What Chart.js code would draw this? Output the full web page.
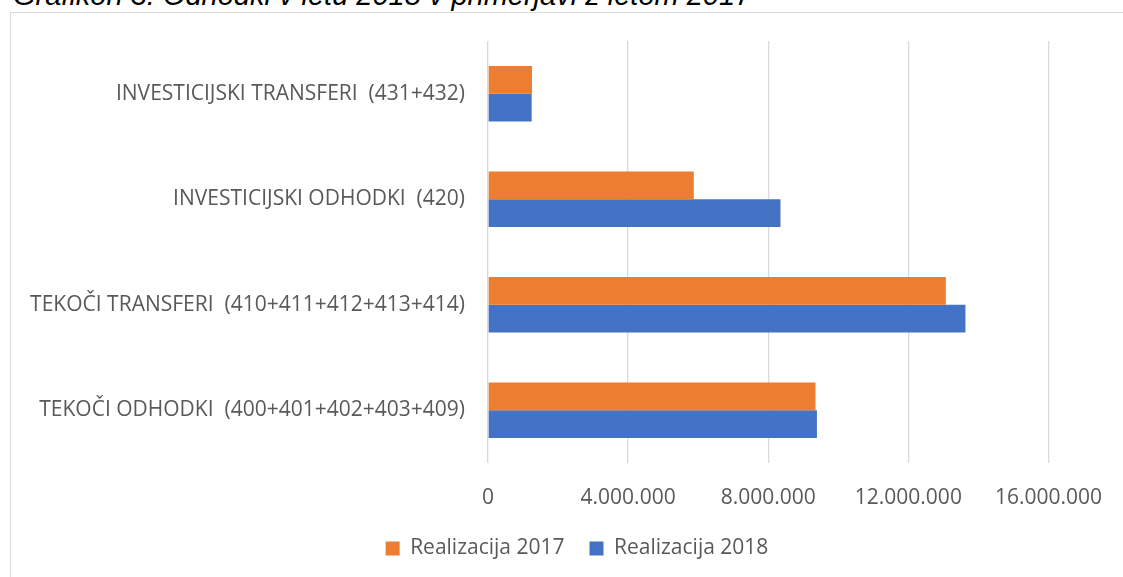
<!DOCTYPE html>
<html>
<head>
    <meta charset="utf-8">
    <title>Odhodki 2018 / 2017</title>
    <script src="https://cdn.jsdelivr.net/npm/chart.js@^4"></script>
    <style>
        body {
            margin: 0;
            width: 1123px;
            height: 577px;
            overflow: hidden;
            background: #fff;
            position: relative;
        }

        #caption {
            position: absolute;
            left: 13px;
            top: -19px;
            font: italic 29px/29px 'Liberation Sans', Arial, sans-serif;
            color: #000;
            white-space: nowrap;
        }

        #frame {
            position: absolute;
            left: 10px;
            top: 12px;
            width: 1140px;
            height: 600px;
            border: 1px solid #d9d9d9;
        }
    </style>
</head>
<body>
<div id="caption">Grafikon 3: Odhodki v letu 2018 v primerjavi z letom 2017</div>
<div id="frame">
    <canvas id="barChart" width="1113" height="560"></canvas>
</div>
<script>
    // Categories top to bottom, as they appear in the chart
    const categories = [
        'INVESTICIJSKI TRANSFERI  (431+432)',
        'INVESTICIJSKI ODHODKI  (420)',
        'TEKOČI TRANSFERI  (410+411+412+413+414)',
        'TEKOČI ODHODKI  (400+401+402+403+409)'
    ];

    // Values (EUR)
    const realizacija2017 = [1256000, 5875000, 13070000, 9350000];
    const realizacija2018 = [1247000, 8350000, 13630000, 9390000];

    // Tick values shown on the value axis
    const xTicks = [0, 4000000, 8000000, 12000000, 16000000];

    const FONT = "'Open Sans', 'Noto Sans', sans-serif";
    const TEXT_GREY = '#595959';

    // 4000000 -> "4.000.000"
    function formatNumber(value) {
        return String(Math.round(value)).replace(/\B(?=(\d{3})+(?!\d))/g, '.');
    }

    const ctx = document.getElementById('barChart').getContext('2d');
    new Chart(ctx, {
        type: 'bar',
        data: {
            labels: categories,
            datasets: [{
                label: 'Realizacija 2017',
                data: realizacija2017,
                backgroundColor: '#ED7D31',
                borderWidth: 0
            }, {
                label: 'Realizacija 2018',
                data: realizacija2018,
                backgroundColor: '#4472C4',
                borderWidth: 0
            }]
        },
        options: {
            indexAxis: 'y',
            responsive: false,
            animation: false,
            categoryPercentage: 0.524,
            barPercentage: 1,
            layout: {
                padding: { left: 19, top: 28, right: 0, bottom: 4 }
            },
            plugins: {
                legend: {
                    position: 'bottom',
                    labels: {
                        boxWidth: 14,
                        boxHeight: 14,
                        padding: 25,
                        color: TEXT_GREY,
                        font: { family: FONT, size: 21 }
                    }
                },
                tooltip: { enabled: false }
            },
            scales: {
                x: {
                    min: 0,
                    max: 18000000,
                    afterBuildTicks: (scale) => {
                        scale.ticks = xTicks.map(v => ({ value: v }));
                    },
                    afterFit: (scale) => {
                        scale.height = 50;
                    },
                    grid: {
                        color: '#d9d9d9',
                        lineWidth: 1.3,
                        drawTicks: false
                    },
                    border: { display: false },
                    ticks: {
                        padding: 22,
                        color: TEXT_GREY,
                        font: { family: FONT, size: 21 },
                        maxRotation: 0,
                        callback: (value) => formatNumber(value)
                    }
                },
                y: {
                    afterFit: (scale) => {
                        scale.width = 458;
                        // the label gap should not push the plot area down
                        scale.paddingTop = 0;
                        scale.paddingBottom = 0;
                    },
                    grid: { display: false, drawTicks: false },
                    border: { display: false },
                    ticks: {
                        padding: 23,
                        color: TEXT_GREY,
                        font: { family: FONT, size: 21 }
                    }
                }
            }
        }
    });
</script>
</body>
</html>
